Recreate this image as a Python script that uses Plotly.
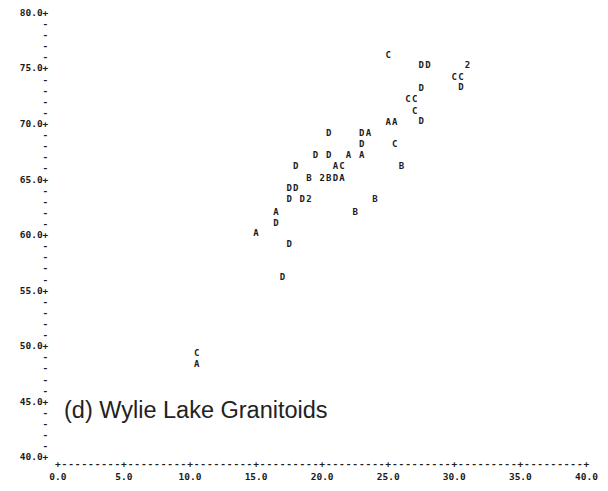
import plotly.graph_objects as go

# ---- data ----
a_x = [10.5, 15.0, 16.5, 21.0, 21.5, 22.0, 23.0, 23.5, 25.0, 25.5]
a_y = [48.4, 60.2, 62.1, 66.2, 65.1, 67.2, 67.2, 69.2, 70.2, 70.2]

b_x = [19.0, 20.5, 22.5, 24.0, 26.0]
b_y = [65.1, 65.1, 62.1, 63.2, 66.2]

c_x = [10.5, 21.5, 25.5, 25.0, 26.5, 27.0, 27.0, 30.0, 30.5]
c_y = [49.4, 66.2, 68.2, 76.2, 72.2, 72.2, 71.2, 74.2, 74.2]

d_x = [17.0, 17.5, 16.5, 17.5, 18.5, 17.5, 18.0, 18.0, 21.0, 19.5,
       20.5, 20.5, 23.0, 23.0, 27.5, 28.0, 27.5, 27.5, 30.5]
d_y = [56.2, 59.2, 61.1, 63.2, 63.2, 64.2, 64.2, 66.2, 65.1, 67.2,
       67.2, 69.2, 69.2, 68.2, 75.3, 75.3, 73.2, 70.3, 73.3]

two_x = [20.0, 19.0, 31.0]   # "2" = two coincident points
two_y = [65.1, 63.2, 75.3]

series = [("A", a_x, a_y), ("B", b_x, b_y), ("C", c_x, c_y),
          ("D", d_x, d_y), ("2", two_x, two_y)]

x_ticks = [0, 5, 10, 15, 20, 25, 30, 35, 40]
y_ticks = [40, 45, 50, 55, 60, 65, 70, 75, 80]
x_min, x_max, x_step = 0, 40, 0.5
y_min, y_max, y_step = 40, 80, 1

title_text = "(d) Wylie Lake Granitoids"

# ---- styling ----
MONO = "DejaVu Sans Mono"
INK = "#1c1c1c"
AX_FONT = dict(family=MONO, size=9.5, color=INK, weight="bold")

# printer-style axis column / row positions (in data units)
Y_COL = -0.95      # column of y-axis '-' marks
Y_LAB = -0.72      # right edge of y tick labels
X_ROW = 39.35      # row of the x-axis '+----' line

fig = go.Figure()

for label, xs, ys in series:
    fig.add_trace(go.Scatter(
        x=xs, y=ys, mode="text", text=[label] * len(xs),
        textposition="middle center",
        textfont=dict(family=MONO, size=9, color=INK, weight="bold"),
        showlegend=False, hoverinfo="x+y", cliponaxis=False,
    ))

# y tick labels, line-printer style ("80.0+")
fig.add_trace(go.Scatter(
    x=[Y_LAB] * len(y_ticks), y=y_ticks, mode="text",
    text=[f"{v:.1f}+" for v in y_ticks], textposition="middle left",
    textfont=AX_FONT, showlegend=False, hoverinfo="skip", cliponaxis=False,
))

# y-axis minor dashes (between labelled ticks)
y_minor = [v for v in range(y_min, y_max + 1, y_step) if v % 5 != 0]
fig.add_trace(go.Scatter(
    x=[Y_COL] * len(y_minor), y=y_minor, mode="text", text=["-"] * len(y_minor),
    textfont=AX_FONT, showlegend=False, hoverinfo="skip", cliponaxis=False,
))

# x-axis line: "+" at labelled ticks, "-" between
n_steps = int((x_max - x_min) / x_step)
x_line = [x_min + i * x_step for i in range(n_steps + 1)]
x_chars = ["+" if abs(v % 5) < 1e-9 else "-" for v in x_line]
fig.add_trace(go.Scatter(
    x=x_line, y=[X_ROW] * len(x_line), mode="text", text=x_chars,
    textfont=AX_FONT, showlegend=False, hoverinfo="skip", cliponaxis=False,
))

fig.add_annotation(
    x=0.28, y=44.3, xref="x", yref="y", text=title_text, showarrow=False,
    xanchor="left", yanchor="middle",
    font=dict(family="Liberation Sans", size=23.5, color="#222222"),
)

# axis ranges padded so the printer-style axis characters fit inside
X_RANGE = [-1.2, 40.8]
Y_RANGE = [39.0, 80.5]

fig.update_layout(
    width=608, height=491,
    margin=dict(l=42.16, r=11.44, t=7.74, b=21.58),
    paper_bgcolor="white", plot_bgcolor="white",
    showlegend=False,
)
fig.update_xaxes(
    range=X_RANGE, showgrid=False, zeroline=False, showline=False,
    tickvals=x_ticks, ticktext=[f"{v:.1f}" for v in x_ticks], ticks="",
    tickfont=AX_FONT, ticklabelstandoff=0,
)
fig.update_yaxes(
    range=Y_RANGE, showgrid=False, zeroline=False, showline=False,
    showticklabels=False, ticks="",
)

fig.write_html("out.html")
